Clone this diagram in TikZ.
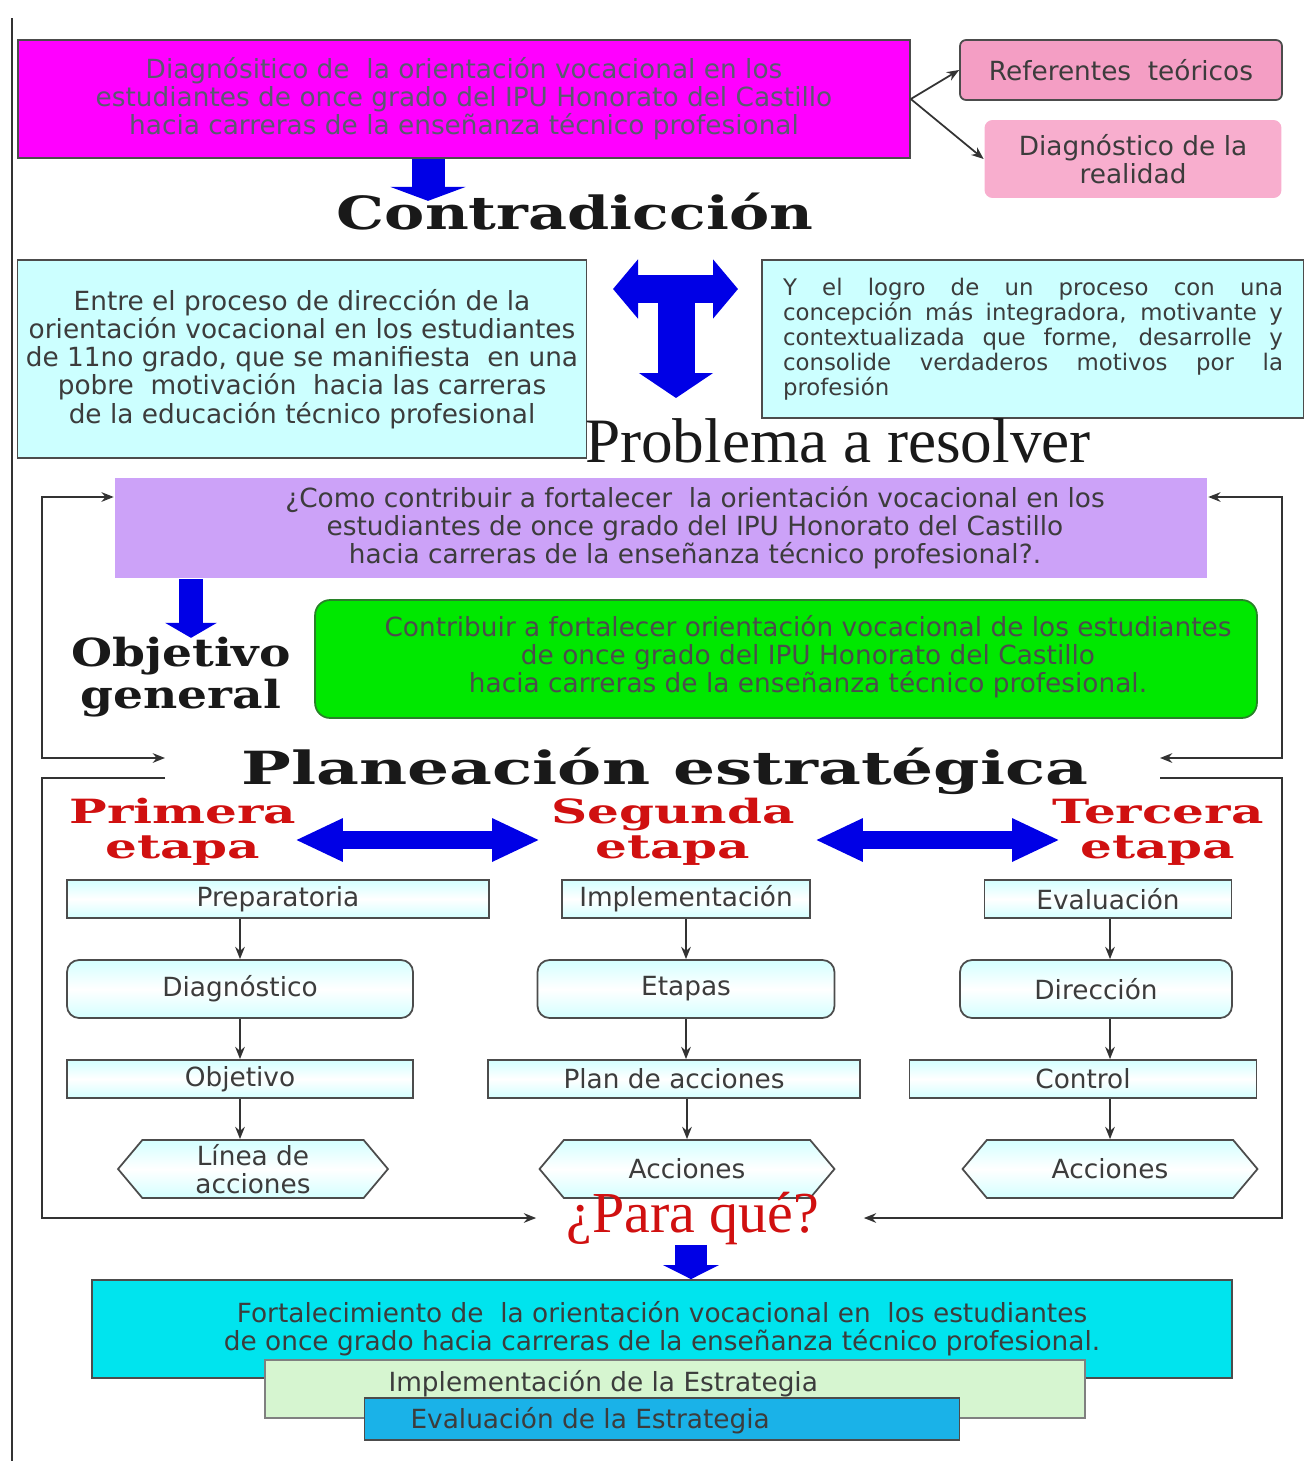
\documentclass[tikz,border=0pt]{standalone}
\usepackage{fontspec}
\setmainfont{DejaVu Sans}
\newfontfamily\serifwide[FakeStretch=1.22]{DejaVu Serif}
\newfontfamily\serifcontra[FakeStretch=1.32]{DejaVu Serif}
\newfontfamily\serifwider[FakeStretch=1.45]{DejaVu Serif}
\newfontfamily\serifetapa[FakeStretch=1.5]{DejaVu Serif}
\newfontfamily\timesfont{Liberation Serif}
\usetikzlibrary{arrows.meta, shapes.symbols}

\definecolor{magenta1}{RGB}{255,0,255}
\definecolor{grismag}{RGB}{90,90,112}
\definecolor{rosa}{RGB}{244,158,196}
\definecolor{rosaclaro}{RGB}{248,174,206}
\definecolor{celeste}{RGB}{204,255,255}
\definecolor{lila}{RGB}{204,162,248}
\definecolor{verde}{RGB}{0,232,0}
\definecolor{verdeborde}{RGB}{40,130,40}
\definecolor{turquesa}{RGB}{0,228,238}
\definecolor{verdeclaro}{RGB}{214,245,208}
\definecolor{azulcaja}{RGB}{26,178,232}
\definecolor{azul}{RGB}{0,0,230}
\definecolor{rojo}{RGB}{208,16,16}
\definecolor{texto}{RGB}{60,60,60}

\begin{document}
\begin{tikzpicture}
        [x=0.02cm, y=-0.02cm, >={Stealth[length=7pt,width=5.5pt]}, semithick,
        txt/.style={text=texto, align=center, inner sep=0pt, font=\fontsize{15}{16}\selectfont},
        caja/.style={txt, draw=black!70, line width=1pt},
        paso/.style={caja, top color=celeste!85, bottom color=celeste!85, middle color=white},
        pasor/.style={paso, rounded corners=0.24cm},
        hexa/.style={paso, shape=signal, signal to=west and east, signal pointer angle=100},
        titulo/.style={inner sep=0pt, text=black!90, align=center, font=\serifcontra\bfseries\fontsize{26}{30}\selectfont},
        titulot/.style={inner sep=0pt, text=black!90, font=\timesfont\fontsize{36}{40}\selectfont},
        etapa/.style={inner sep=0pt, text=rojo, align=center, font=\serifetapa\bfseries\fontsize{19}{20}\selectfont},
        linea/.style={draw=black!80, line width=1pt},
        gorda/.style={draw=azul, line width=#1}]
        \useasboundingbox (0,0) rectangle (1304,1461);
        \draw[linea, line width=0.8pt] (12,18) -- (12,1461);

        \node[caja, fill=magenta1, text=grismag, minimum width=17.84cm, minimum height=2.36cm] (diag) at (464,99)
                {Diagnósitico de \ la orientación vocacional en los\\estudiantes de once grado del IPU Honorato del Castillo\\hacia carreras de la enseñanza técnico profesional};
        \node[caja, fill=rosa, rounded corners=0.12cm, minimum width=6.44cm, minimum height=1.2cm] (refs) at (1121,70) {Referentes \ teóricos};
        \node[caja, draw=none, fill=rosaclaro, rounded corners=0.16cm, minimum width=5.94cm, minimum height=1.56cm] (real) at (1133,159) {Diagnóstico de la\\realidad};
        \node[titulo] (contra) at (575,212) {Contradicción};
        \node[caja, fill=celeste, minimum width=11.38cm, minimum height=3.96cm] (entre) at (302,359)
                {Entre el proceso de dirección de la\\orientación vocacional en los estudiantes\\de 11no grado, que se manifiesta \ en una\\pobre \ motivación \ hacia las carreras\\de la educación técnico profesional};
        \node[caja, fill=celeste, minimum width=10.84cm, minimum height=3.16cm, text width=10cm, align=justify,
                font=\fontsize{13}{14.2}\selectfont] (logro) at (1033,339)
                {Y el logro de un proceso con una\linebreak concepción más integradora, motivante y\linebreak contextualizada que forme, desarrolle y\linebreak consolide verdaderos motivos por la\linebreak profesión};
        \node[titulot] (problema) at (838,441) {Problema a resolver};

        \node[caja, draw=none, fill=lila, minimum width=21.86cm, minimum height=2cm] (como) at (661,528) {};
        \node[txt] (comotxt) at (695,528)
                {¿Como contribuir a fortalecer \ la orientación vocacional en los\\estudiantes de once grado del IPU Honorato del Castillo\\hacia carreras de la enseñanza técnico profesional?.};
        \node[titulo, font=\serifwide\bfseries\fontsize{22}{24}\selectfont] (objgen) at (181,677) {Objetivo\\general};
        \node[caja, fill=verde, draw=verdeborde, rounded corners=0.3cm, minimum width=18.84cm, minimum height=2.36cm] (contrib) at (786,659) {};
        \node[txt, text=black!70] (contribtxt) at (808,657)
                {Contribuir a fortalecer orientación vocacional de los estudiantes\\de once grado del IPU Honorato del Castillo\\hacia carreras de la enseñanza técnico profesional.};

        \node[titulo, font=\serifwider\bfseries\fontsize{26}{30}\selectfont] (planea) at (665,771) {Planeación estratégica};
        \node[etapa] (et1) at (183,832) {Primera\\etapa};
        \node[etapa] (et2) at (673,832) {Segunda\\etapa};
        \node[etapa] (et3) at (1158,832) {Tercera\\etapa};

        \node[paso, minimum width=8.44cm, minimum height=0.76cm] (prep) at (278,899) {Preparatoria};
        \node[pasor, minimum width=6.92cm, minimum height=1.16cm] (diagn) at (240,989) {Diagnóstico};
        \node[paso, minimum width=6.92cm, minimum height=0.76cm] (obj) at (240,1079) {Objetivo};
        \node[hexa, minimum width=5.4cm, minimum height=1.16cm] (lineac) at (253,1169) {Línea de\\acciones};

        \node[paso, minimum width=4.96cm, minimum height=0.76cm] (impl) at (686,899) {Implementación};
        \node[pasor, minimum width=5.94cm, minimum height=1.16cm] (etapas) at (686,989) {Etapas};
        \node[paso, minimum width=7.44cm, minimum height=0.76cm] (plan) at (674,1079) {Plan de acciones};
        \node[hexa, minimum width=5.9cm, minimum height=1.16cm] (acc2) at (687,1169) {Acciones};

        \node[paso, minimum width=4.94cm, minimum height=0.76cm] (evalu) at (1108,899) {Evaluación};
        \node[pasor, minimum width=5.44cm, minimum height=1.16cm] (dir) at (1096,989) {Dirección};
        \node[paso, minimum width=6.94cm, minimum height=0.76cm] (control) at (1083,1079) {Control};
        \node[hexa, minimum width=5.9cm, minimum height=1.16cm] (acc3) at (1110,1169) {Acciones};

        \node[titulot, text=rojo, font=\timesfont\fontsize{33}{36}\selectfont] (para) at (693,1218) {¿Para qué?};
        \node[caja, fill=turquesa, minimum width=22.8cm, minimum height=1.96cm] (fort) at (662,1329)
                {Fortalecimiento de \ la orientación vocacional en \ los estudiantes\\de once grado hacia carreras de la enseñanza técnico profesional.};
        \node[caja, draw=black!50, fill=verdeclaro, minimum width=16.4cm, minimum height=1.16cm] (implest) at (675,1389) {};
        \node[txt, anchor=west] (impltxt) at (388,1384) {Implementación de la Estrategia};
        \node[caja, fill=azulcaja, minimum width=11.9cm, minimum height=0.84cm] (evalest) at (662,1419) {};
        \node[txt, anchor=west] (evaltxt) at (410,1421) {Evaluación de la Estrategia};

        \coordinate (tl) at (613,289);
        \coordinate (tr) at (738,289);
        \coordinate (tb) at (676,398);
        \coordinate (oa) at (191,0);
        \coordinate (m1) at (295,840);
        \coordinate (m2) at (540,840);
        \coordinate (m3) at (815,840);
        \coordinate (m4) at (1060,840);
        \coordinate (fi1) at (42,497);
        \coordinate (fi2) at (165,758);
        \coordinate (fi3) at (165,778);
        \coordinate (fd1) at (1282,497);
        \coordinate (fd2) at (1160,758);
        \coordinate (fd3) at (1160,778);

        \draw[linea, ->] (diag.east) -- (refs.west);
        \draw[linea, ->] (diag.east) -- (real.west);

        \draw[gorda=0.66cm, -{Triangle[width=1.5cm,length=0.28cm]}] ([xshift=-0.72cm]diag.south) -- ++(0,42);
        \draw[gorda=0.56cm, {Triangle[width=1.16cm,length=0.5cm]}-{Triangle[width=1.16cm,length=0.5cm]}] (tl) -- (tr);
        \draw[gorda=0.74cm, -{Triangle[width=1.46cm,length=0.5cm]}] (tl -| tb) -- (tb);
        \draw[gorda=0.5cm, -{Triangle[width=1.02cm,length=0.3cm]}] (como.south -| oa) -- ++(0,59);
        \draw[gorda=0.36cm, {Triangle[width=0.8cm,length=0.96cm]}-{Triangle[width=0.8cm,length=0.96cm]}] (m1) -- (m2);
        \draw[gorda=0.36cm, {Triangle[width=0.8cm,length=0.96cm]}-{Triangle[width=0.8cm,length=0.96cm]}] (m3) -- (m4);
        \draw[gorda=0.64cm, -{Triangle[width=1.1cm,length=0.28cm]}] ([xshift=-0.04cm]para.south) -- ([xshift=-0.04cm]para.south |- fort.north);

        \draw[linea, <->] (como.west |- fi1) -- (fi1) -- (fi1 |- fi2) -- (fi2);
        \draw[linea, <->] (como.east |- fd1) -- (fd1) -- (fd1 |- fd2) -- (fd2);
        \draw[linea, ->] (fi3) -- (fi1 |- fi3) -- (fi1 |- para) -- ([xshift=-0.6cm]para.west);
        \draw[linea, ->] (fd3) -- (fd1 |- fd3) -- (fd1 |- para) -- ([xshift=0.88cm]para.east);

        \draw[linea, ->] (prep.south -| diagn.north) -- (diagn.north);
        \draw[linea, ->] (diagn) -- (obj);
        \draw[linea, ->] (obj.south) -- (obj.south |- lineac.north);
        \draw[linea, ->] (impl) -- (etapas);
        \draw[linea, ->] (etapas.south) -- (etapas.south |- plan.north);
        \draw[linea, ->] (plan.south -| acc2.north) -- (acc2.north);
        \draw[linea, ->] (evalu.south -| acc3.north) -- (dir.north -| acc3.north);
        \draw[linea, ->] (dir.south -| acc3.north) -- (control.north -| acc3.north);
        \draw[linea, ->] (control.south -| acc3.north) -- (acc3.north);
\end{tikzpicture}
\end{document}
